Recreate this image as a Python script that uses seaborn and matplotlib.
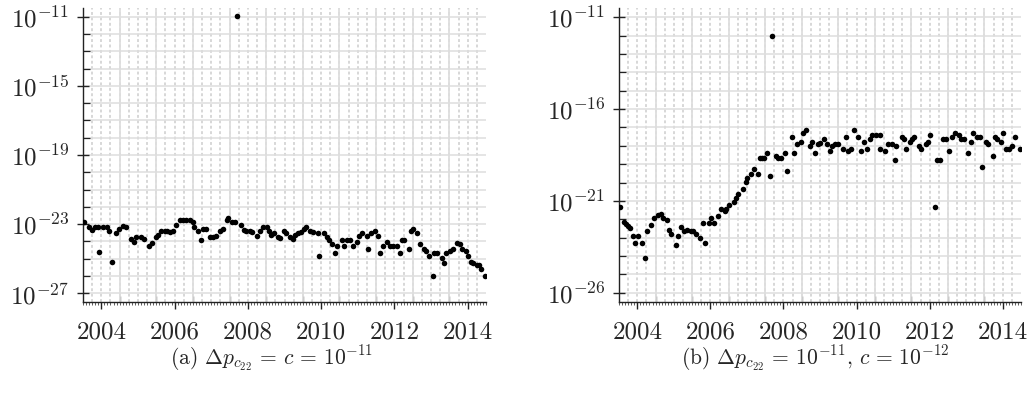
import numpy as np
import matplotlib
matplotlib.use("Agg")
import matplotlib.pyplot as plt
import matplotlib.ticker as mticker
import seaborn as sns

# (a) dp_c22 = c = 1e-11 : monthly solutions, decimal year vs. log10 of the value
years_a = [
    2003.54, 2003.66, 2003.75, 2003.82, 2003.91, 2003.95, 2004.05, 2004.15, 2004.21, 2004.28,
    2004.39, 2004.48, 2004.59, 2004.68, 2004.82, 2004.88, 2004.96, 2005.07, 2005.16, 2005.30,
    2005.37, 2005.48, 2005.55, 2005.63, 2005.73, 2005.80, 2005.87, 2005.96, 2006.05, 2006.14,
    2006.23, 2006.32, 2006.41, 2006.49, 2006.53, 2006.65, 2006.71, 2006.78, 2006.87, 2006.98,
    2007.05, 2007.12, 2007.23, 2007.32, 2007.42, 2007.47, 2007.57, 2007.64, 2007.69, 2007.80,
    2007.89, 2007.96, 2008.05, 2008.12, 2008.24, 2008.33, 2008.42, 2008.51, 2008.58, 2008.62,
    2008.72, 2008.81, 2008.87, 2008.98, 2009.05, 2009.15, 2009.22, 2009.29, 2009.37, 2009.45,
    2009.52, 2009.60, 2009.69, 2009.78, 2009.92, 2009.95, 2010.07, 2010.15, 2010.22, 2010.31,
    2010.37, 2010.44, 2010.56, 2010.62, 2010.71, 2010.80, 2010.86, 2010.97, 2011.04, 2011.12,
    2011.24, 2011.29, 2011.36, 2011.47, 2011.54, 2011.60, 2011.70, 2011.79, 2011.88, 2011.97,
    2012.06, 2012.15, 2012.20, 2012.27, 2012.39, 2012.45, 2012.52, 2012.63, 2012.70, 2012.81,
    2012.86, 2012.94, 2013.04, 2013.09, 2013.17, 2013.29, 2013.36, 2013.42, 2013.52, 2013.59,
    2013.70, 2013.79, 2013.85, 2013.95, 2014.02, 2014.08, 2014.15, 2014.25, 2014.32, 2014.36,
    2014.47,
]
log10_a = [
    -22.90, -23.14, -23.33, -23.17, -23.14, -24.58, -23.14, -23.14, -23.37, -25.20,
    -23.52, -23.29, -23.08, -23.14, -23.87, -24.04, -23.77, -23.77, -23.87, -24.29,
    -24.10, -23.75, -23.62, -23.37, -23.37, -23.37, -23.46, -23.37, -23.04, -22.75,
    -22.75, -22.75, -22.75, -22.90, -23.17, -23.37, -23.91, -23.29, -23.29, -23.75,
    -23.75, -23.68, -23.37, -23.29, -22.75, -22.65, -22.85, -22.85, -10.96, -23.04,
    -23.33, -23.37, -23.37, -23.48, -23.66, -23.37, -23.14, -23.14, -23.37, -23.64,
    -23.52, -23.77, -23.79, -23.39, -23.52, -23.77, -23.87, -23.62, -23.52, -23.43,
    -23.29, -23.17, -23.37, -23.43, -23.52, -24.84, -23.52, -23.77, -23.91, -24.16,
    -24.68, -24.29, -23.91, -24.29, -23.91, -23.91, -24.29, -24.04, -23.66, -23.52,
    -23.66, -24.45, -23.52, -23.39, -23.68, -24.68, -24.29, -24.04, -24.29, -24.29,
    -24.29, -24.68, -23.91, -23.91, -24.43, -23.37, -23.29, -23.52, -24.16, -24.43,
    -24.55, -24.84, -25.99, -24.68, -24.68, -24.93, -25.22, -24.68, -24.55, -24.43,
    -24.06, -24.16, -24.43, -24.55, -24.82, -25.20, -25.22, -25.36, -25.36, -25.61,
    -25.99,
]

# (b) dp_c22 = 1e-11, c = 1e-12
years_b = [
    2003.53, 2003.64, 2003.69, 2003.74, 2003.79, 2003.89, 2003.95, 2004.02, 2004.14, 2004.20,
    2004.27, 2004.38, 2004.46, 2004.57, 2004.64, 2004.70, 2004.82, 2004.88, 2004.93, 2005.06,
    2005.12, 2005.19, 2005.29, 2005.37, 2005.46, 2005.52, 2005.60, 2005.71, 2005.80, 2005.85,
    2005.96, 2006.03, 2006.10, 2006.21, 2006.28, 2006.39, 2006.44, 2006.52, 2006.64, 2006.71,
    2006.76, 2006.89, 2006.97, 2007.01, 2007.12, 2007.19, 2007.30, 2007.37, 2007.42, 2007.46,
    2007.56, 2007.62, 2007.68, 2007.79, 2007.86, 2007.92, 2008.05, 2008.11, 2008.24, 2008.30,
    2008.36, 2008.48, 2008.54, 2008.61, 2008.72, 2008.79, 2008.85, 2008.95, 2009.01, 2009.12,
    2009.20, 2009.27, 2009.33, 2009.42, 2009.49, 2009.62, 2009.70, 2009.77, 2009.86, 2009.94,
    2010.05, 2010.12, 2010.20, 2010.29, 2010.36, 2010.43, 2010.52, 2010.63, 2010.65, 2010.79,
    2010.86, 2010.98, 2011.05, 2011.09, 2011.25, 2011.29, 2011.35, 2011.47, 2011.53, 2011.58,
    2011.70, 2011.77, 2011.89, 2011.96, 2012.02, 2012.16, 2012.20, 2012.27, 2012.37, 2012.45,
    2012.52, 2012.61, 2012.69, 2012.81, 2012.87, 2012.93, 2013.05, 2013.12, 2013.18, 2013.30,
    2013.37, 2013.44, 2013.53, 2013.60, 2013.73, 2013.79, 2013.85, 2013.96, 2014.02, 2014.08,
    2014.18, 2014.26, 2014.33, 2014.47,
]
log10_b = [
    -21.33, -22.15, -22.27, -22.38, -22.45, -22.91, -23.27, -22.91, -23.27, -24.11,
    -22.65, -22.29, -21.93, -21.78, -21.69, -21.93, -22.05, -22.56, -22.78, -23.42,
    -22.91, -22.42, -22.65, -22.56, -22.65, -22.65, -22.78, -23.02, -22.20, -23.27,
    -22.20, -21.93, -22.20, -21.84, -21.45, -21.56, -21.45, -21.20, -21.07, -20.84,
    -20.60, -20.35, -19.98, -19.75, -19.51, -19.27, -19.51, -18.64, -18.64, -18.64,
    -18.40, -19.64, -12.05, -18.53, -18.64, -18.64, -18.40, -19.38, -17.53, -18.40,
    -17.91, -17.78, -17.29, -17.16, -18.02, -17.78, -18.40, -17.91, -17.82, -17.65,
    -17.91, -18.27, -18.02, -17.91, -17.91, -18.15, -17.53, -18.27, -18.15, -17.16,
    -17.53, -18.27, -17.78, -18.15, -17.65, -17.40, -17.40, -18.15, -17.40, -18.27,
    -17.91, -17.91, -18.76, -18.02, -17.53, -17.65, -18.15, -17.78, -17.65, -17.53,
    -18.02, -18.15, -17.91, -17.78, -17.40, -21.33, -18.76, -18.76, -17.65, -17.65,
    -18.27, -17.53, -17.29, -17.40, -17.65, -17.65, -18.40, -17.78, -17.29, -17.53,
    -17.53, -19.15, -17.78, -17.91, -18.53, -17.53, -17.65, -17.78, -17.29, -18.15,
    -18.15, -18.02, -17.53, -18.15,
]

year_ticks = [2004, 2006, 2008, 2010, 2012, 2014]
captions = [r"(a) $\Delta p_{c_{22}}\,=\,c\,=\,10^{-11}$",
            r"(b) $\Delta p_{c_{22}}\,=\,10^{-11},\,c\,=\,10^{-12}$"]

sns.set_theme(style="white")
plt.rcParams.update({
    "font.family": ["cmr10", "DejaVu Serif"],
    "mathtext.fontset": "cm",
    "axes.formatter.use_mathtext": True,
    "axes.unicode_minus": False,
})

W, H = 1034, 395
fig = plt.figure(figsize=(W / 100, H / 100), dpi=100)
ax_a = fig.add_axes([83 / W, 1 - 302 / H, (486 - 83) / W, (302 - 8) / H])
ax_b = fig.add_axes([619 / W, 1 - 302 / H, (1021 - 619) / W, (302 - 8) / H])

GRID = "#dedede"


def draw_panel(ax, years, exps, ylo, yhi, major_exps):
    ax.set_yscale("log")
    ax.set_xlim(2003.5, 2014.5)
    ax.set_ylim(10.0 ** ylo, 10.0 ** yhi)

    # background grid: a line per decade, a solid line per year, dashed per quarter
    for q in np.arange(2003.75, 2014.5, 0.25):
        ax.axvline(q, color="#d4d4d4", lw=1.3, ls=(0, (1.6, 1.4)), zorder=0)
    for yv in np.arange(2004.5, 2014.5, 1.0):
        ax.axvline(yv, color=GRID, lw=1.3, zorder=0.5)
    ax.grid(axis="y", which="both", color=GRID, lw=1.1, zorder=0.5)
    ax.grid(axis="x", which="both", visible=False)

    sns.scatterplot(x=years, y=10.0 ** np.asarray(exps), ax=ax, color="black",
                    s=16, linewidth=0, zorder=3, legend=False)
    ax.set_xlabel("")
    ax.set_ylabel("")

    ax.yaxis.set_major_locator(mticker.FixedLocator(10.0 ** np.array(major_exps, dtype=float)))
    ax.yaxis.set_minor_locator(mticker.FixedLocator(
        10.0 ** np.arange(np.ceil(ylo), np.floor(yhi) + 1)))
    ax.yaxis.set_major_formatter(mticker.FuncFormatter(
        lambda v, _: rf"$10^{{{int(round(np.log10(v)))}}}$"))
    ax.yaxis.set_minor_formatter(mticker.NullFormatter())

    ax.xaxis.set_major_locator(mticker.FixedLocator(year_ticks))
    ax.xaxis.set_major_formatter(mticker.FuncFormatter(lambda v, _: f"{int(v)}"))
    ax.xaxis.set_minor_locator(mticker.MultipleLocator(1 / 12))

    for side in ("top", "right"):
        ax.spines[side].set_visible(False)
    for side in ("left", "bottom"):
        ax.spines[side].set_color("#222222")
        ax.spines[side].set_linewidth(1.0)

    ax.tick_params(axis="y", which="major", direction="inout", length=8, width=1.0,
                   color="#222222", labelsize=18, pad=6, left=True)
    ax.tick_params(axis="y", which="minor", direction="in", length=5, width=0.9,
                   color="#222222", left=True)
    ax.tick_params(axis="x", which="major", direction="out", length=5, width=1.0,
                   color="#222222", labelsize=18, pad=9, bottom=True)
    ax.tick_params(axis="x", which="minor", direction="out", length=2.2, width=0.6,
                   color="#444444", bottom=True)

    # inward ticks at mid-year positions
    sec = ax.secondary_xaxis("bottom")
    sec.set_xticks(np.arange(2004.5, 2014.5, 1.0))
    sec.tick_params(direction="in", length=4, width=0.9, color="#222222", labelbottom=False)
    sec.spines["bottom"].set_visible(False)


draw_panel(ax_a, years_a, log10_a, -27.5, -10.5, [-27, -23, -19, -15, -11])
draw_panel(ax_b, years_b, log10_b, -26.5, -10.5, [-26, -21, -16, -11])

fig.text(272 / W, 1 - 358 / H, captions[0], ha="center", va="center", fontsize=15.5)
fig.text(815 / W, 1 - 358 / H, captions[1], ha="center", va="center", fontsize=15.5)

fig.savefig("out.png", dpi=100)
